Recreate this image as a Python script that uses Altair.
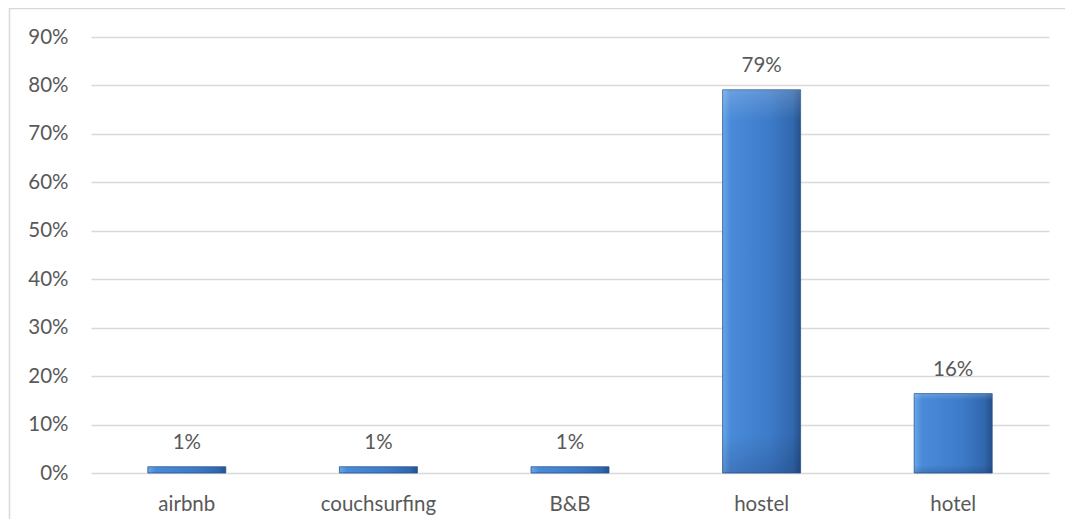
import altair as alt
import pandas as pd

categories = ["airbnb", "couchsurfing", "B&B", "hostel", "hotel"]
shares = [0.013, 0.013, 0.013, 0.791, 0.164]
y_ticks = [0.0, 0.1, 0.2, 0.3, 0.4, 0.5, 0.6, 0.7, 0.8, 0.9]

df = pd.DataFrame({"category": categories, "share": shares})

FONT = "Lato"
TXT = "#595959"
FS = 20.5

x_enc = alt.X("category:N", sort=categories, title=None,
              scale=alt.Scale(paddingInner=0.0, paddingOuter=0.0),
              axis=alt.Axis(labelAngle=0, domain=False, ticks=False,
                            labelPadding=21, labelFontSize=FS,
                            labelColor=TXT, labelFont=FONT, grid=False))
y_enc = alt.Y("share:Q", title=None,
              scale=alt.Scale(domain=[0, 0.9], nice=False),
              axis=alt.Axis(values=y_ticks, format=".0%", domain=False, ticks=False,
                            labelPadding=23, labelFontSize=FS, labelColor=TXT,
                            labelFont=FONT, gridColor="#d9d9d9", gridWidth=1.5))

grad = alt.Gradient(
    gradient="linear",
    x1=0, x2=1, y1=0, y2=0,
    stops=[
        alt.GradientStop(color="#6aa6ea", offset=0),
        alt.GradientStop(color="#4a8bd9", offset=0.1),
        alt.GradientStop(color="#3d7bc9", offset=0.6),
        alt.GradientStop(color="#3168ad", offset=0.9),
        alt.GradientStop(color="#26508a", offset=1),
    ],
)
vgrad = alt.Gradient(
    gradient="linear",
    x1=0, x2=0, y1=0, y2=1,
    stops=[
        alt.GradientStop(color="rgba(255,255,255,0.18)", offset=0),
        alt.GradientStop(color="rgba(255,255,255,0)", offset=0.08),
        alt.GradientStop(color="rgba(0,0,0,0)", offset=0.9),
        alt.GradientStop(color="rgba(0,0,40,0.15)", offset=1),
    ],
)

base = alt.Chart(df)

bars = base.mark_bar(size=78, color=grad, stroke="#2a5894", strokeWidth=0.8).encode(
    x=x_enc, y=y_enc)
overlay = base.mark_bar(size=78, color=vgrad).encode(x=x_enc, y=y_enc)

labels = base.mark_text(baseline="alphabetic", dy=-18, fontSize=FS, font=FONT,
                        color=TXT).encode(
    x=alt.X("category:N", sort=categories),
    y=alt.Y("share:Q"),
    text=alt.Text("share:Q", format=".0%"))

border = alt.Chart(alt.Data(values=[{"a": 1}])).mark_rect(
    fill="transparent", stroke="#d9d9d9", strokeWidth=1.5).encode(
    x=alt.value(-81.5), x2=alt.value(1100), y=alt.value(-28.5), y2=alt.value(600))

chart = alt.layer(bars, overlay, labels, border).properties(
    width=958, height=436,
    autosize=alt.AutoSizeParams(type="none"),
    padding={"left": 83, "top": 29, "right": 16, "bottom": 46},
).configure(background="white").configure_view(strokeWidth=0)

chart.save("out.html", embed_options={"renderer": "svg", "actions": False})
